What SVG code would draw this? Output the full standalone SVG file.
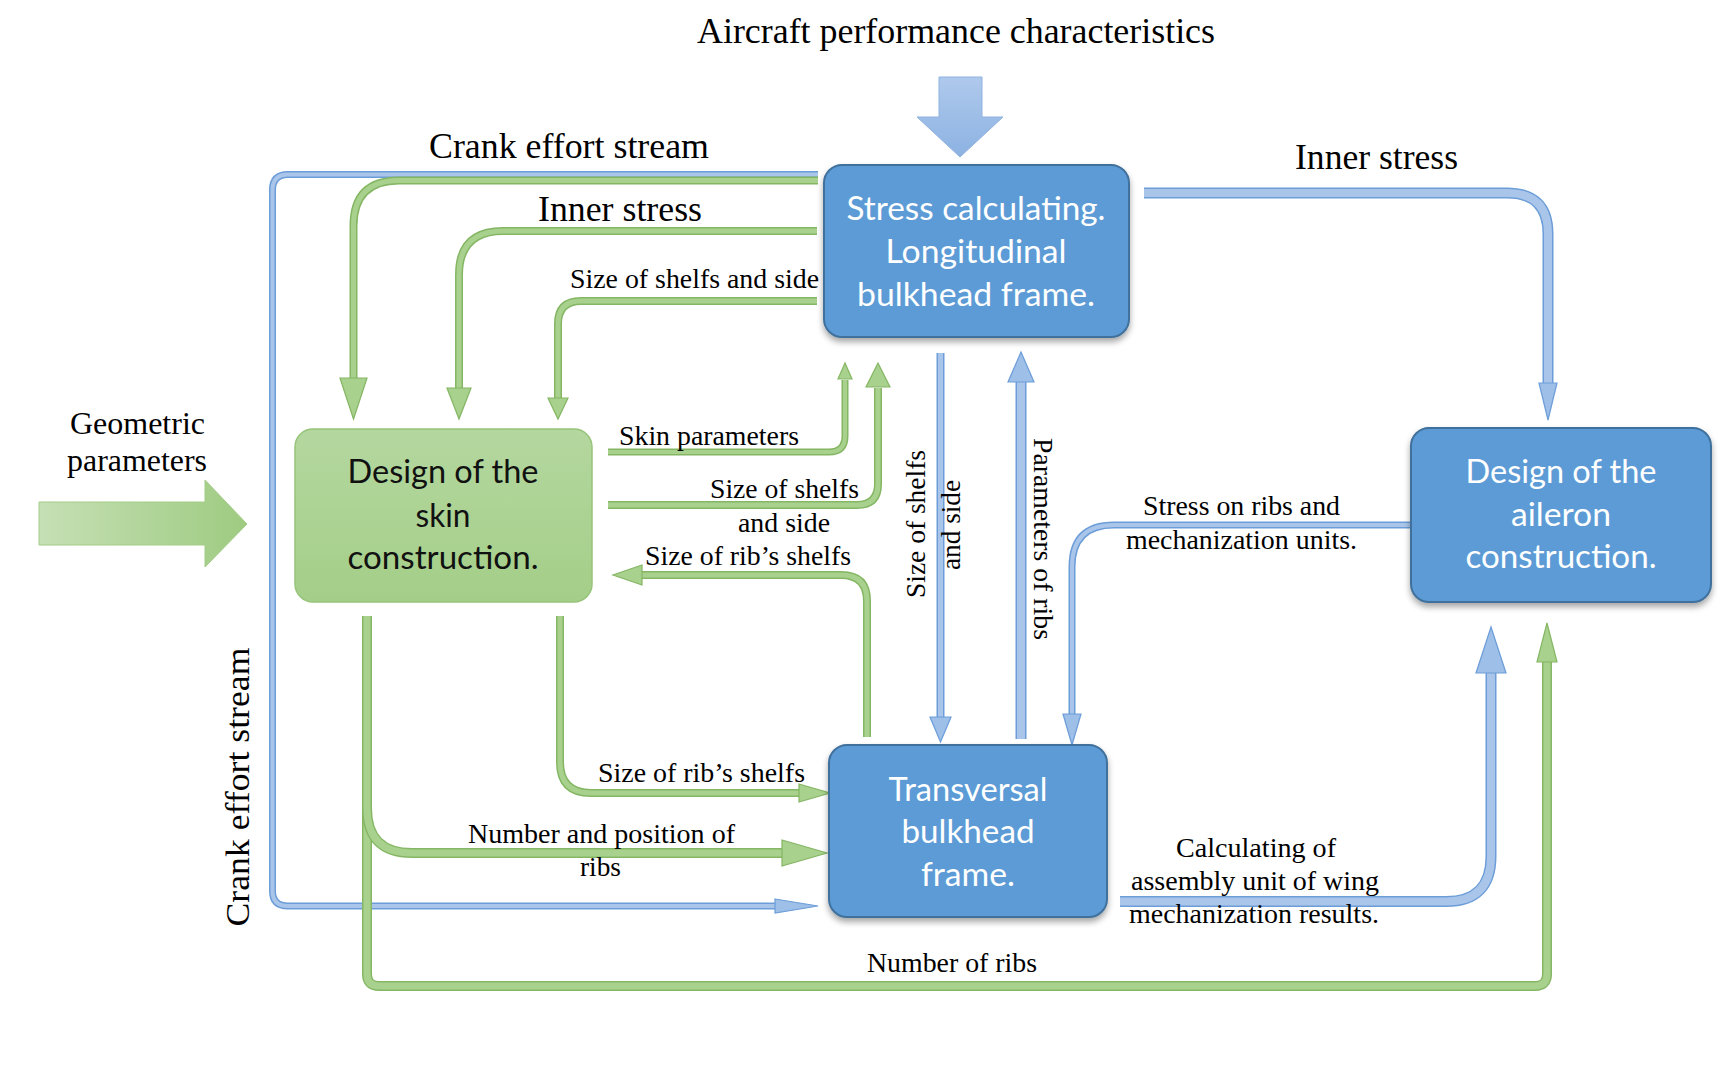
<svg xmlns="http://www.w3.org/2000/svg" width="1735" height="1079" viewBox="0 0 1735 1079">
<defs>
  <linearGradient id="gTop" x1="0" y1="0" x2="0" y2="1">
    <stop offset="0" stop-color="#afc9ec"/>
    <stop offset="1" stop-color="#8cb2e2"/>
  </linearGradient>
  <linearGradient id="gGeo" x1="0" y1="0" x2="1" y2="0">
    <stop offset="0" stop-color="#c6e0b5"/>
    <stop offset="1" stop-color="#9ecb81"/>
  </linearGradient>
  <linearGradient id="gSkin" x1="0" y1="0" x2="0" y2="1">
    <stop offset="0" stop-color="#b4d79f"/>
    <stop offset="1" stop-color="#a4ce88"/>
  </linearGradient>
  <filter id="shadow" x="-10%" y="-10%" width="120%" height="130%">
    <feDropShadow dx="0" dy="4" stdDeviation="3" flood-color="#000" flood-opacity="0.35"/>
  </filter>
  <style>
    .bbox { fill:#5b9bd5; stroke:#41719c; stroke-width:2; filter:url(#shadow) }
    .gbox { fill:url(#gSkin); stroke:#97c47a; stroke-width:1.5 }
    .bt { font-family:Lato,"Open Sans","Noto Sans",sans-serif; font-size:32px; fill:#ffffff; text-anchor:middle }
    .gt { font-family:Lato,"Open Sans","Noto Sans",sans-serif; font-size:32px; fill:#111111; text-anchor:middle }
    .lbl { font-family:"Liberation Serif","Times New Roman",serif; fill:#000000 }
    .big { font-size:35px }
    .med { font-size:32px }
    .sm { font-size:28px }
    .gO { fill:none; stroke:#84b663 }
    .gI { fill:none; stroke:#a9d18e }
    .bO { fill:none; stroke:#6c9dd8 }
    .bI { fill:none; stroke:#a9c6ea }
    .gH { fill:#a9d18e; stroke:#84b663; stroke-width:1.2; stroke-linejoin:miter }
    .bH { fill:#9dbfe8; stroke:#6c9dd8; stroke-width:1.2; stroke-linejoin:miter }
  </style>
</defs>
<rect width="1735" height="1079" fill="#ffffff"/>

<!-- input arrows -->
<g id="input-performance">
  <polygon points="939,77 982,77 982,117 1003,117 960,157 917,117 939,117" fill="url(#gTop)" stroke="#8fb3e0" stroke-width="1"/>
  <text class="lbl big" x="697" y="43" textLength="518" lengthAdjust="spacingAndGlyphs">Aircraft performance characteristics</text>
</g>
<g id="input-geometric">
  <polygon points="39,502 205,502 205,480 247,524 205,567 205,545 39,545" fill="url(#gGeo)" stroke="#a3cc87" stroke-width="1"/>
  <text class="lbl med" x="70" y="434" textLength="135" lengthAdjust="spacingAndGlyphs">Geometric</text>
  <text class="lbl med" x="67" y="471" textLength="140" lengthAdjust="spacingAndGlyphs">parameters</text>
</g>

<!-- connectors -->
<g id="connectors">
  <!-- blue crank effort stream (outer loop) -->
  <path class="bO" stroke-width="7" d="M818,174.5 H288 Q272.5,174.5 272.5,190 V891 Q272.5,906 288,906 H776"/>
  <path class="bI" stroke-width="4" d="M818,174.5 H288 Q272.5,174.5 272.5,190 V891 Q272.5,906 288,906 H776"/>
  <polygon class="bH" points="775,899 818,906 775,913"/>

  <!-- green crank effort stream -->
  <path class="gO" stroke-width="8" d="M818,180.5 H399 Q353.5,180.5 353.5,226 V379"/>
  <path class="gI" stroke-width="5" d="M818,180.5 H399 Q353.5,180.5 353.5,226 V379"/>
  <polygon class="gH" points="340,378 367,378 353.5,419"/>

  <!-- green inner stress -->
  <path class="gO" stroke-width="8" d="M817,231 H503 Q459,231 459,275 V389"/>
  <path class="gI" stroke-width="5" d="M817,231 H503 Q459,231 459,275 V389"/>
  <polygon class="gH" points="447,388 471,388 459,419"/>

  <!-- green size of shelfs and side (top) -->
  <path class="gO" stroke-width="8" d="M817,301 H581 Q558,301 558,324 V399"/>
  <path class="gI" stroke-width="5" d="M817,301 H581 Q558,301 558,324 V399"/>
  <polygon class="gH" points="548,398 568,398 558,419"/>

  <!-- blue inner stress (right) -->
  <path class="bO" stroke-width="11" d="M1144,193 H1507 Q1548,193 1548,234 V384"/>
  <path class="bI" stroke-width="8" d="M1144,193 H1507 Q1548,193 1548,234 V384"/>
  <polygon class="bH" points="1539,383 1557,383 1548,420"/>

  <!-- blue stress on ribs and mechanization units -->
  <path class="bO" stroke-width="7" d="M1411,525 H1114 Q1072,525 1072,567 V715"/>
  <path class="bI" stroke-width="4" d="M1411,525 H1114 Q1072,525 1072,567 V715"/>
  <polygon class="bH" points="1063,714 1081,714 1072,745"/>

  <!-- blue calculating of assembly unit -->
  <path class="bO" stroke-width="11" d="M1120,901.5 H1446 Q1491,901.5 1491,856 V672"/>
  <path class="bI" stroke-width="8" d="M1120,901.5 H1446 Q1491,901.5 1491,856 V672"/>
  <polygon class="bH" points="1476,673 1506,673 1491,627"/>

  <!-- green number of ribs -->
  <path class="gO" stroke-width="10" d="M367,616 V974 Q367,986 379,986 H1535 Q1547,986 1547,974 V661"/>
  <path class="gI" stroke-width="7" d="M367,616 V974 Q367,986 379,986 H1535 Q1547,986 1547,974 V661"/>
  <polygon class="gH" points="1537,662 1557,662 1547,623"/>

  <!-- green number and position of ribs -->
  <path class="gO" stroke-width="10" d="M367,616 V808 Q367,853 412,853 H783"/>
  <path class="gI" stroke-width="7" d="M367,616 V808 Q367,853 412,853 H783"/>
  <polygon class="gH" points="782,840 827,853 782,866"/>

  <!-- green size of rib's shelfs (lower) -->
  <path class="gO" stroke-width="8" d="M560,616 V762 Q560,793 591,793 H800"/>
  <path class="gI" stroke-width="5" d="M560,616 V762 Q560,793 591,793 H800"/>
  <polygon class="gH" points="799,784 830,793 799,802"/>

  <!-- green skin parameters -->
  <path class="gO" stroke-width="7" d="M608,452 H829 Q845,452 845,436 V380"/>
  <path class="gI" stroke-width="4" d="M608,452 H829 Q845,452 845,436 V380"/>
  <polygon class="gH" points="838,379 852,379 845,363"/>

  <!-- green size of shelfs and side (middle) -->
  <path class="gO" stroke-width="8" d="M608,505 H857 Q878,505 878,484 V388"/>
  <path class="gI" stroke-width="5" d="M608,505 H857 Q878,505 878,484 V388"/>
  <polygon class="gH" points="866,387 890,387 878,363"/>

  <!-- green size of rib's shelfs (upper) -->
  <path class="gO" stroke-width="8" d="M867,737 V601 Q867,575 841,575 H641"/>
  <path class="gI" stroke-width="5" d="M867,737 V601 Q867,575 841,575 H641"/>
  <polygon class="gH" points="642,565 613,575 642,585"/>

  <!-- blue size of shelfs and side (down) -->
  <path class="bO" stroke-width="8" d="M940.5,353 V718"/>
  <path class="bI" stroke-width="5" d="M940.5,353 V718"/>
  <polygon class="bH" points="930,717 951,717 940.5,742"/>

  <!-- blue parameters of ribs (up) -->
  <path class="bO" stroke-width="11" d="M1021,739 V381"/>
  <path class="bI" stroke-width="8" d="M1021,739 V381"/>
  <polygon class="bH" points="1008,382 1034,382 1021,352"/>

  <!-- connector labels -->
  <text class="lbl big" x="429" y="158" textLength="280" lengthAdjust="spacingAndGlyphs">Crank effort stream</text>
  <text class="lbl big" x="538" y="221" textLength="164" lengthAdjust="spacingAndGlyphs">Inner stress</text>
  <text class="lbl sm" x="570" y="288" textLength="249" lengthAdjust="spacingAndGlyphs">Size of shelfs and side</text>
  <text class="lbl big" x="1295" y="169" textLength="163" lengthAdjust="spacingAndGlyphs">Inner stress</text>
  <text class="lbl sm" x="619" y="445" textLength="180" lengthAdjust="spacingAndGlyphs">Skin parameters</text>
  <text class="lbl sm" x="710" y="498" textLength="149" lengthAdjust="spacingAndGlyphs">Size of shelfs</text>
  <text class="lbl sm" x="738" y="532" textLength="92" lengthAdjust="spacingAndGlyphs">and side</text>
  <text class="lbl sm" x="645" y="565" textLength="206" lengthAdjust="spacingAndGlyphs">Size of rib’s shelfs</text>
  <text class="lbl sm" x="598" y="782" textLength="207" lengthAdjust="spacingAndGlyphs">Size of rib’s shelfs</text>
  <text class="lbl sm" x="468" y="843" textLength="267" lengthAdjust="spacingAndGlyphs">Number and position of</text>
  <text class="lbl sm" x="580" y="876" textLength="41" lengthAdjust="spacingAndGlyphs">ribs</text>
  <text class="lbl sm" x="867" y="972" textLength="170" lengthAdjust="spacingAndGlyphs">Number of ribs</text>
  <text class="lbl sm" x="1176" y="857" textLength="160" lengthAdjust="spacingAndGlyphs">Calculating of</text>
  <text class="lbl sm" x="1131" y="890" textLength="248" lengthAdjust="spacingAndGlyphs">assembly unit of wing</text>
  <text class="lbl sm" x="1129" y="923" textLength="250" lengthAdjust="spacingAndGlyphs">mechanization results.</text>
  <text class="lbl sm" x="1143" y="515" textLength="197" lengthAdjust="spacingAndGlyphs">Stress on ribs and</text>
  <text class="lbl sm" x="1126" y="549" textLength="231" lengthAdjust="spacingAndGlyphs">mechanization units.</text>
  <text class="lbl sm" text-anchor="middle" transform="translate(925,524) rotate(-90)" textLength="148" lengthAdjust="spacingAndGlyphs">Size of shelfs</text>
  <text class="lbl sm" text-anchor="middle" transform="translate(960,525) rotate(-90)" textLength="90" lengthAdjust="spacingAndGlyphs">and side</text>
  <text class="lbl sm" text-anchor="middle" transform="translate(1034,539) rotate(90)" textLength="202" lengthAdjust="spacingAndGlyphs">Parameters of ribs</text>
  <text class="lbl" font-size="34" text-anchor="middle" transform="translate(249,787) rotate(-90)" textLength="279" lengthAdjust="spacingAndGlyphs">Crank effort stream</text>
</g>

<!-- nodes -->
<g id="node-stress">
  <rect class="bbox" x="824" y="165" width="305" height="172" rx="18"/>
  <text class="bt" x="976" y="220" textLength="259" lengthAdjust="spacingAndGlyphs">Stress calculating.</text>
  <text class="bt" x="976" y="263" textLength="181" lengthAdjust="spacingAndGlyphs">Longitudinal</text>
  <text class="bt" x="976" y="306" textLength="238" lengthAdjust="spacingAndGlyphs">bulkhead frame.</text>
</g>
<g id="node-skin">
  <rect class="gbox" x="295" y="429" width="297" height="173" rx="18"/>
  <text class="gt" x="443" y="483" textLength="191" lengthAdjust="spacingAndGlyphs">Design of the</text>
  <text class="gt" x="443" y="527" textLength="55" lengthAdjust="spacingAndGlyphs">skin</text>
  <text class="gt" x="443" y="569" textLength="191" lengthAdjust="spacingAndGlyphs">construction.</text>
</g>
<g id="node-aileron">
  <rect class="bbox" x="1411" y="428" width="300" height="174" rx="18"/>
  <text class="bt" x="1561" y="483" textLength="191" lengthAdjust="spacingAndGlyphs">Design of the</text>
  <text class="bt" x="1561" y="526" textLength="100" lengthAdjust="spacingAndGlyphs">aileron</text>
  <text class="bt" x="1561" y="568" textLength="191" lengthAdjust="spacingAndGlyphs">construction.</text>
</g>
<g id="node-transversal">
  <rect class="bbox" x="829" y="745" width="278" height="172" rx="18"/>
  <text class="bt" x="968" y="801" textLength="159" lengthAdjust="spacingAndGlyphs">Transversal</text>
  <text class="bt" x="968" y="843" textLength="133" lengthAdjust="spacingAndGlyphs">bulkhead</text>
  <text class="bt" x="968" y="886" textLength="94" lengthAdjust="spacingAndGlyphs">frame.</text>
</g>
</svg>
